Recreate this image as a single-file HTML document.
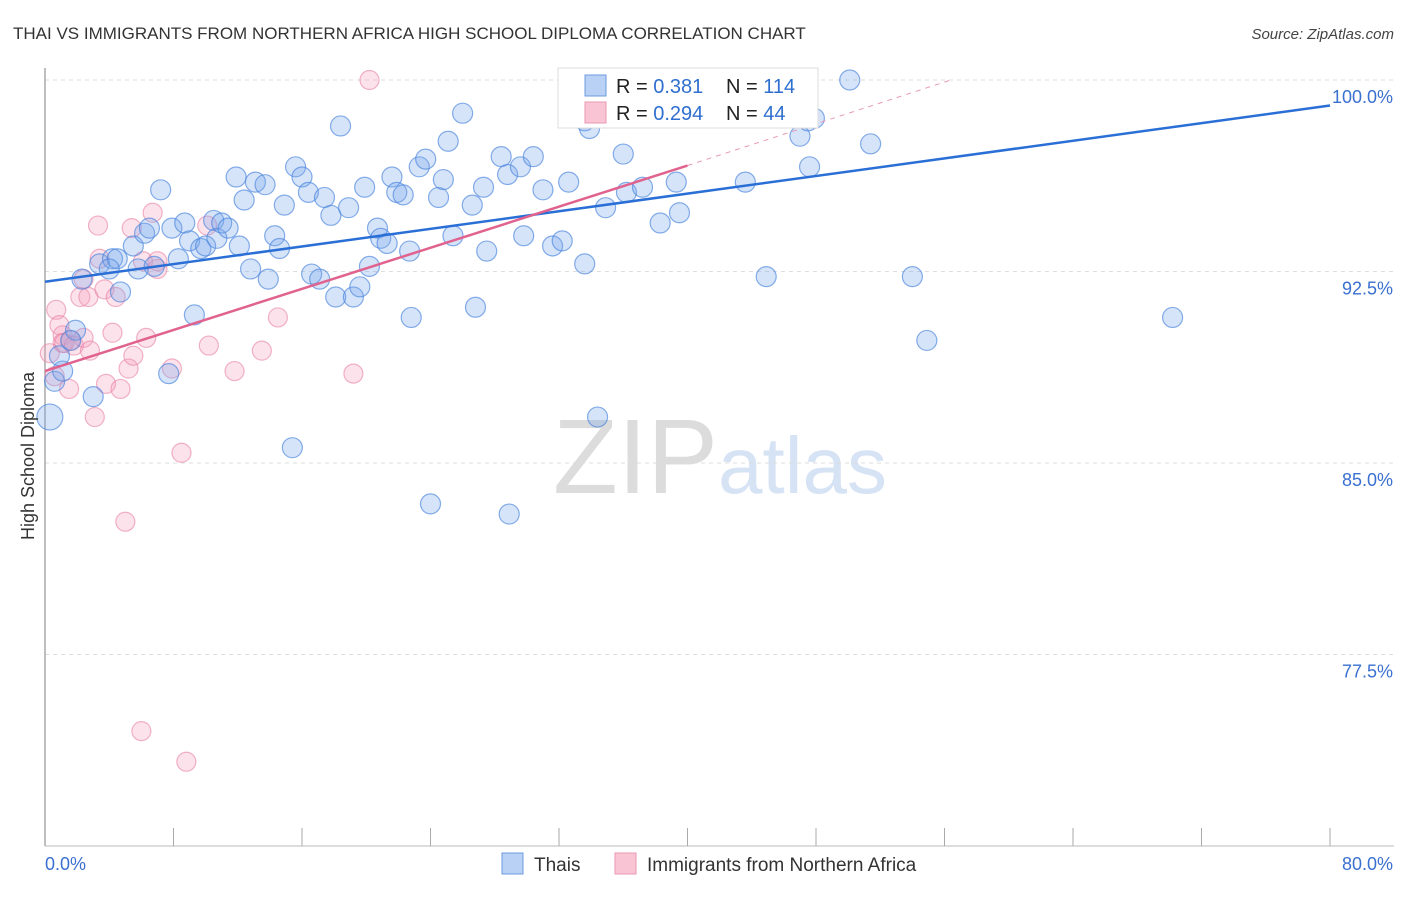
<!DOCTYPE html>
<html><head><meta charset="utf-8"><style>
body{margin:0;background:#fff;font-family:"Liberation Sans",sans-serif;}
svg text{font-family:"Liberation Sans",sans-serif;}
</style></head><body>
<svg id="chart" width="1406" height="892" xmlns="http://www.w3.org/2000/svg">
<text x="13" y="39" font-size="17" fill="#333">THAI VS IMMIGRANTS FROM NORTHERN AFRICA HIGH SCHOOL DIPLOMA CORRELATION CHART</text>
<text x="1394" y="39" font-size="15" fill="#444" font-style="italic" text-anchor="end">Source: ZipAtlas.com</text>
<g>
<text x="553" y="493" font-size="106" fill="#dcdcdc" font-family="Liberation Serif,serif">ZIP</text>
<text x="718" y="493" font-size="80" fill="#d6e3f5">atlas</text>
</g>
<g id="grid"></g>
<g id="axes"></g>
<g id="pts"></g>
<g id="lines"></g>
<text transform="translate(34,456) rotate(-90)" font-size="18" fill="#333" text-anchor="middle">High School Diploma</text>
<g>
<rect x="558" y="68" width="260" height="60" fill="#fff" stroke="#ddd"/>
<rect x="585" y="75" width="21" height="21" fill="#b9d1f5" stroke="#6d9be0"/>
<rect x="585" y="102" width="21" height="21" fill="#f9c4d4" stroke="#ea97b1"/>
<text x="616" y="93" font-size="20" fill="#222">R = <tspan fill="#2f6fd0"> 0.381</tspan><tspan x="726">N = </tspan><tspan fill="#2f6fd0">114</tspan></text>
<text x="616" y="120" font-size="20" fill="#222">R = <tspan fill="#2f6fd0">0.294</tspan><tspan x="726">N = </tspan><tspan fill="#2f6fd0"> 44</tspan></text>
</g>
<g>
<rect x="502" y="853" width="21" height="21" fill="#b9d1f5" stroke="#6d9be0"/>
<text x="534" y="871" font-size="19" fill="#333">Thais</text>
<rect x="615" y="853" width="21" height="21" fill="#f9c4d4" stroke="#ea97b1"/>
<text x="647" y="871" font-size="19" fill="#333">Immigrants from Northern Africa</text>
</g>
</svg>
<script>
const yTicks=[100,92.5,85,77.5];
const yTickLabels=["100.0%","92.5%","85.0%","77.5%"];
const xTicks=[0,8,16,24,32,40,48,56,64,72,80];
const blueX=[0.3,0.6,1.1,0.9,1.9,1.6,3.0,2.3,3.4,4.2,4.5,4.0,4.7,5.8,5.5,6.2,6.5,6.8,7.2,7.9,8.3,8.7,9.0,9.3,7.7,9.7,10.0,10.5,10.7,11.0,11.4,11.9,12.1,12.4,12.8,13.1,13.7,13.9,14.3,14.6,14.9,15.4,15.6,16.0,16.4,16.6,17.1,17.4,17.8,18.1,18.4,18.9,19.2,19.6,19.9,20.2,20.7,20.9,21.3,21.6,21.9,22.3,22.7,22.8,23.3,23.7,24.0,24.5,24.8,25.1,25.4,26.0,26.6,26.8,27.3,27.5,28.4,28.8,28.9,29.6,29.8,30.4,31.0,31.6,32.2,32.6,32.9,33.6,33.6,33.9,34.4,34.9,36.0,36.2,36.6,37.2,38.3,39.3,39.5,41.6,43.6,44.9,47.0,47.5,47.6,47.9,50.1,51.4,54.0,54.9,70.2];
const blueY=[86.8,88.2,88.6,89.2,90.2,89.8,87.6,92.2,92.8,93.0,93.0,92.6,91.7,92.6,93.5,94.0,94.2,92.7,95.7,94.2,93.0,94.4,93.7,90.8,88.5,93.4,93.5,94.5,93.8,94.4,94.2,96.2,93.5,95.3,92.6,96.0,95.9,92.2,93.9,93.4,95.1,85.6,96.6,96.2,95.6,92.4,92.2,95.4,94.7,91.5,98.2,95.0,91.5,91.9,95.8,92.7,94.2,93.8,93.6,96.2,95.6,95.5,93.3,90.7,96.6,96.9,83.4,95.4,96.1,97.6,93.9,98.7,95.1,91.1,95.8,93.3,97.0,96.3,83.0,96.6,93.9,97.0,95.7,93.5,93.7,96.0,99.3,92.8,98.4,98.1,86.8,95.0,97.1,95.6,98.9,95.8,94.4,96.0,94.8,100.0,96.0,92.3,97.8,98.4,96.6,98.5,100.0,97.5,92.3,89.8,90.7];
const pinkX=[0.3,0.6,0.7,0.9,1.1,1.1,1.2,1.5,1.6,1.8,2.2,2.4,2.4,2.7,2.8,3.1,3.3,3.4,3.7,3.8,4.2,4.4,4.7,5.0,5.2,5.4,5.5,6.0,6.1,6.3,6.7,7.0,7.0,7.9,8.5,8.8,10.1,10.2,11.8,13.5,14.5,19.2,20.2,32.9];
const pinkY=[89.3,88.4,91.0,90.4,90.0,89.7,89.7,87.9,89.8,89.6,91.5,92.2,89.9,91.5,89.4,86.8,94.3,93.0,91.8,88.1,90.1,91.5,87.9,82.7,88.7,94.2,89.2,74.5,92.9,89.9,94.8,92.6,92.9,88.7,85.4,73.3,94.3,89.6,88.6,89.4,90.7,88.5,100.0,98.6];
const blueTrend=[[0,92.1],[80,99.0]];
const pinkTrend=[[0,88.6],[40,96.65]];
const pinkTrendExt=[[40,96.65],[56.4,100]];

const NS="http://www.w3.org/2000/svg";
const X0=45,X1=1330,Y100=80,PX_PER_PCT=191.5/7.5;
function sx(v){return X0+(v/80)*(X1-X0);}
function sy(v){return Y100+(100-v)*PX_PER_PCT;}
function mk(tag,attrs,parent){const e=document.createElementNS(NS,tag);for(const k in attrs)e.setAttribute(k,attrs[k]);parent.appendChild(e);return e;}
const grid=document.getElementById('grid'),axes=document.getElementById('axes'),pts=document.getElementById('pts'),lines=document.getElementById('lines');
yTicks.forEach((t,i)=>{
  const l=mk('line',{x1:X0,x2:1394,y1:sy(t),y2:sy(t),stroke:'#ddd','stroke-dasharray':'4,4'},grid);
  
  
  const tx=mk('text',{x:1393,y:sy(t)+23,'font-size':18,fill:'#3a70d0','text-anchor':'end'},axes);
  tx.textContent=yTickLabels[i];
  
  
});
const ya=mk('line',{x1:X0,x2:X0,y1:68,y2:846,stroke:'#aaa','stroke-width':1.5},axes);


const xa=mk('line',{x1:X0,x2:1394,y1:846,y2:846,stroke:'#bbb'},axes);


xTicks.forEach(t=>{
  const l=mk('line',{x1:sx(t),x2:sx(t),y1:828,y2:846,stroke:'#aaa'},axes);
  
  
});
const xl0=mk('text',{x:45,y:870,'font-size':18,fill:'#3a70d0'},axes);xl0.textContent='0.0%';


const xl1=mk('text',{x:1393,y:870,'font-size':18,fill:'#3a70d0','text-anchor':'end'},axes);xl1.textContent='80.0%';


pinkX.forEach((v,i)=>{
  const c=mk('circle',{cx:sx(v),cy:sy(pinkY[i]),r:9.5,fill:'rgba(244,160,188,0.3)',stroke:'rgba(232,130,165,0.6)','stroke-width':1.2},pts);
  
  
});
blueX.forEach((v,i)=>{
  const c=mk('circle',{cx:sx(v),cy:sy(blueY[i]),r:i===0?13:10,fill:'rgba(120,165,235,0.3)',stroke:'rgba(70,130,220,0.65)','stroke-width':1.2},pts);
  
  
});
const bl=mk('line',{x1:sx(blueTrend[0][0]),y1:sy(blueTrend[0][1]),x2:sx(blueTrend[1][0]),y2:sy(blueTrend[1][1]),stroke:'#2a6fd6','stroke-width':2.5},lines);


const pl=mk('line',{x1:sx(pinkTrend[0][0]),y1:sy(pinkTrend[0][1]),x2:sx(pinkTrend[1][0]),y2:sy(pinkTrend[1][1]),stroke:'#e0638f','stroke-width':2.5},lines);


const pe=mk('line',{x1:sx(pinkTrendExt[0][0]),y1:sy(pinkTrendExt[0][1]),x2:sx(pinkTrendExt[1][0]),y2:sy(pinkTrendExt[1][1]),stroke:'#e89ab5','stroke-width':1,'stroke-dasharray':'5,5'},lines);


</script>
</body></html>
